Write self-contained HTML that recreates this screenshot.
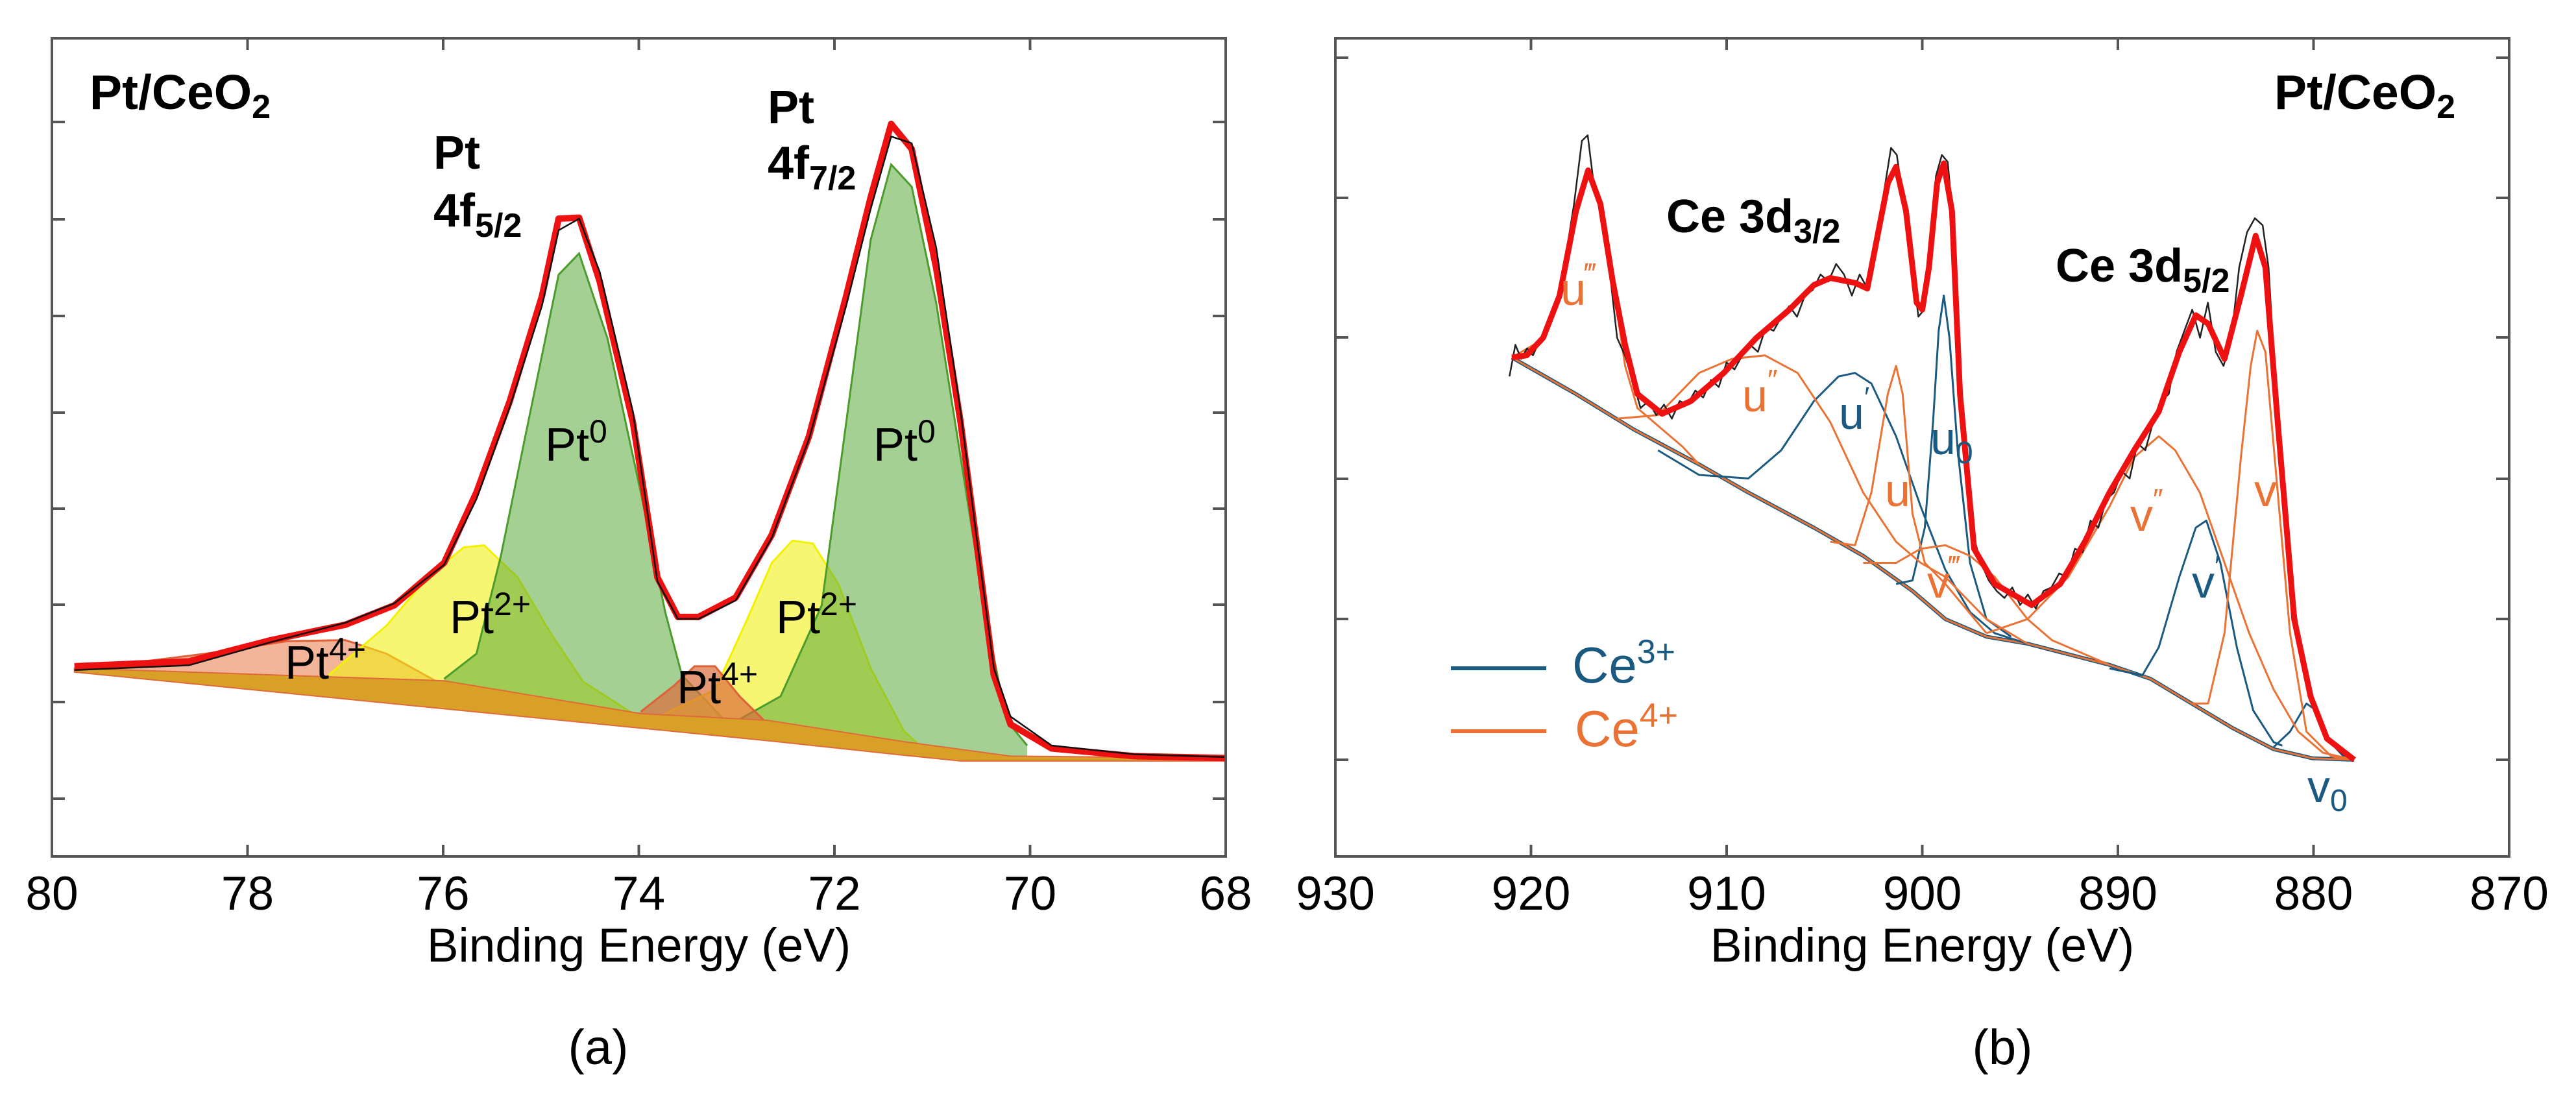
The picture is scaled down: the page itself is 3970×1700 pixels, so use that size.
<!DOCTYPE html>
<html><head><meta charset="utf-8"><style>
body{margin:0;background:#fff;}
svg{display:block;font-family:"Liberation Sans",Arial,sans-serif;}
</style></head><body>
<svg id="fig" width="3970" height="1700" viewBox="0 0 3970 1700" xmlns="http://www.w3.org/2000/svg">
<g id="pa"></g>
<g id="pb"></g>
</svg>
<script>
// ---------- Panel (a) data: [binding energy eV, intensity a.u.] ----------
const aTicksX = [80, 78, 76, 74, 72, 70, 68];
const aTickLabels = ["80", "78", "76", "74", "72", "70", "68"];
const aEnvelope = [[79.77,1.37],[78.60,1.42],[77.76,1.64],[77.00,1.80],[76.50,2.00],[75.99,2.44],[75.66,3.17],[75.32,4.11],[74.99,5.20],[74.82,6.00],[74.61,6.01],[74.40,5.35],[74.06,3.89],[73.81,2.29],[73.60,1.88],[73.39,1.88],[73.01,2.08],[72.64,2.73],[72.26,3.75],[71.88,5.20],[71.63,6.22],[71.42,6.98],[71.21,6.72],[70.96,5.49],[70.71,3.89],[70.54,2.59],[70.37,1.28],[70.20,0.77],[69.78,0.52],[68.94,0.44],[68.00,0.42]];
const aData = [[79.77,1.33],[78.60,1.38],[77.76,1.62],[77.00,1.82],[76.50,2.02],[75.99,2.42],[75.66,3.10],[75.32,4.05],[74.99,5.10],[74.82,5.88],[74.61,6.00],[74.40,5.45],[74.06,4.00],[73.81,2.25],[73.60,1.86],[73.39,1.86],[73.01,2.05],[72.64,2.70],[72.26,3.72],[71.88,5.10],[71.63,6.10],[71.42,6.85],[71.21,6.78],[70.96,5.70],[70.71,4.00],[70.54,2.65],[70.37,1.35],[70.20,0.85],[69.78,0.55],[68.94,0.46],[68.00,0.43]];
const aBackground = [[79.77,1.31],[75.99,0.93],[73.98,0.73],[72.68,0.60],[71.29,0.45],[70.71,0.39],[68.00,0.39]];
const aBgTop = [[79.77,1.35],[75.99,1.22],[73.98,0.88],[72.68,0.81],[71.29,0.59],[70.20,0.44],[68.00,0.42]];
const aPt4a = [[79.77,1.33],[78.43,1.50],[77.59,1.63],[77.00,1.64],[76.58,1.50],[75.99,1.17],[75.00,0.99],[73.98,0.88]];
const aPt4b = [[73.98,0.90],[73.64,1.17],[73.43,1.37],[73.22,1.37],[72.97,1.06],[72.72,0.81]];
const aPt2a = [[77.17,1.28],[76.58,1.79],[76.16,2.29],[75.79,2.60],[75.58,2.62],[75.24,2.29],[74.90,1.71],[74.57,1.21],[74.06,0.88]];
const aPt2b = [[73.81,0.84],[73.22,1.13],[72.89,1.86],[72.64,2.44],[72.43,2.67],[72.22,2.64],[71.96,2.22],[71.63,1.35],[71.29,0.70],[71.13,0.55]];
const aPt0a = [[75.99,1.24],[75.66,1.50],[75.41,2.51],[75.16,3.75],[74.82,5.42],[74.61,5.64],[74.32,4.76],[73.98,3.17],[73.73,1.93],[73.56,1.28],[73.14,0.83]];
const aPt0b = [[73.06,0.77],[72.55,1.06],[72.13,2.00],[71.88,3.89],[71.63,5.78],[71.42,6.56],[71.21,6.33],[70.96,5.13],[70.71,3.53],[70.45,1.86],[70.24,0.81],[70.03,0.55]];

// ---------- Panel (b) data: [binding energy eV, counts a.u.] ----------
const bTicksX = [930, 920, 910, 900, 890, 880, 870];
const bTickLabels = ["930", "920", "910", "900", "890", "880", "870"];
const bEnvelope = [[920.98,572],[920.22,575],[919.38,600],[918.54,660],[917.70,780],[917.08,838],[916.45,790],[915.82,680],[915.19,590],[914.56,520],[913.30,492],[911.83,510],[910.15,550],[908.47,600],[906.79,640],[905.54,675],[904.70,685],[903.44,678],[902.81,670],[902.39,730],[901.76,820],[901.34,843],[900.83,780],[900.29,650],[900.00,640],[899.66,700],[899.24,820],[898.90,848],[898.48,780],[898.07,520],[897.35,300],[896.30,250],[894.41,220],[892.95,250],[891.69,310],[890.43,380],[889.17,440],[887.91,495],[886.86,580],[886.02,632],[885.39,620],[884.55,570],[883.71,660],[882.96,745],[882.46,700],[881.83,480],[880.99,200],[880.15,90],[879.31,30],[877.92,0]];
const bData = [[921.1,545],[920.8,590],[920.5,570],[920.2,585],[919.9,575],[919.5,600],[919.1,615],[918.6,665],[918.2,720],[917.8,790],[917.4,880],[917.1,888],[916.8,820],[916.4,780],[916.0,700],[915.6,600],[915.2,575],[914.8,540],[914.4,500],[914.0,510],[913.6,490],[913.2,505],[912.8,485],[912.4,510],[912.0,505],[911.6,525],[911.2,515],[910.8,540],[910.4,530],[910.0,565],[909.6,555],[909.2,575],[908.8,590],[908.4,580],[908.0,615],[907.6,610],[907.2,630],[906.8,645],[906.4,630],[906.0,660],[905.6,668],[905.2,690],[904.8,680],[904.4,705],[904.0,690],[903.6,660],[903.2,690],[902.8,670],[902.4,720],[902.0,800],[901.6,870],[901.3,860],[900.9,780],[900.5,700],[900.2,630],[899.9,640],[899.6,720],[899.3,830],[899.0,860],[898.7,850],[898.4,760],[898.1,560],[897.8,420],[897.4,320],[897.0,280],[896.6,255],[896.2,240],[895.8,230],[895.4,245],[895.0,220],[894.6,235],[894.2,215],[893.8,240],[893.4,245],[893.0,265],[892.6,260],[892.2,300],[891.8,295],[891.4,340],[891.0,330],[890.6,370],[890.2,380],[889.8,410],[889.4,400],[889.0,450],[888.6,440],[888.2,480],[887.8,510],[887.4,520],[887.0,580],[886.6,610],[886.2,640],[885.8,600],[885.4,650],[885.0,580],[884.6,560],[884.2,600],[883.8,700],[883.4,750],[883.0,770],[882.6,760],[882.3,700],[882.0,560],[881.7,420],[881.4,330],[881.0,230],[880.6,140],[880.2,110],[879.8,60],[879.4,40],[879.0,20],[878.5,8],[877.9,2]];
const bBackground = [[920.98,572],[917.70,520],[914.77,470],[911.41,420],[908.89,380],[905.54,330],[903.02,290],[900.50,240],[898.82,200],[896.72,175],[894.62,165],[892.53,150],[890.43,135],[888.33,115],[886.23,80],[884.13,45],[882.04,15],[880.04,2],[877.92,0]];
const bU3 = [[920.98,572],[919.38,598],[918.54,660],[917.70,780],[917.08,838],[916.45,790],[915.82,680],[915.19,560],[914.56,500],[913.51,475],[912.25,445],[911.41,420]];
const bU2 = [[915.61,485],[913.51,490],[911.41,550],[909.73,570],[908.05,575],[906.37,550],[904.70,480],[903.02,380],[901.34,310],[900.08,280],[898.82,260],[896.72,200],[894.62,165]];
const bU = [[904.70,310],[903.44,305],[902.60,380],[901.76,520],[901.34,560],[901.00,520],[900.50,350],[899.87,280],[898.82,250],[896.72,180]];
const bV3 = [[903.02,280],[901.34,280],[900.08,300],[898.82,305],[897.56,290],[896.30,260],[894.62,200],[893.37,170],[890.43,135]];
const bV2 = [[896.72,180],[894.62,200],[892.53,260],[890.43,360],[889.17,430],[887.91,460],[887.07,440],[885.81,380],[884.55,280],[883.29,180],[882.04,100],[880.78,40],[879.52,10],[877.92,0]];
const bV = [[886.23,80],[885.39,80],[884.55,180],[883.71,430],[883.21,560],[882.88,610],[882.46,580],[881.83,380],[881.20,180],[880.36,40],[879.10,5],[877.92,0]];
const bUp = [[913.51,440],[911.41,405],[908.89,400],[907.21,440],[905.54,510],[904.28,545],[903.44,550],[902.60,535],[901.34,460],[900.08,360],[898.82,270],[897.56,210],[896.30,180],[894.62,165]];
const bU0 = [[901.34,250],[900.50,255],[899.87,330],[899.45,480],[899.16,610],[898.90,660],[898.61,600],[898.19,440],[897.56,280],[896.72,200],[895.46,175]];
const bVp = [[890.43,130],[888.75,120],[887.91,160],[886.86,260],[886.02,330],[885.48,340],[884.76,280],[883.92,160],[883.08,70],[882.04,25],[881.60,20]];
const bV0 = [[882.04,18],[881.20,40],[880.36,80],[879.85,70],[879.31,30],[878.47,5],[877.92,0]];

const NS = "http://www.w3.org/2000/svg";
function mk(parent, tag, attrs){ const e=document.createElementNS(NS,tag); for(const k in attrs) e.setAttribute(k,attrs[k]); parent.appendChild(e); return e; }

const axA = {x0:80, x1:1889, y0:59, y1:1320, eMax:80, eMin:68};
const xA = e => axA.x0 + (axA.eMax - e)/(axA.eMax-axA.eMin)*(axA.x1-axA.x0);
const yA = v => 1231 - v*149;
const axB = {x0:2058, x1:3867, y0:59, y1:1320, eMax:930, eMin:870};
const xB = e => axB.x0 + (axB.eMax - e)/(axB.eMax-axB.eMin)*(axB.x1-axB.x0);
const yB = c => 1171 - c*1.084;

function pts(arr, fx, fy){ return arr.map(p => fx(p[0]).toFixed(1)+","+fy(p[1]).toFixed(1)).join(" "); }
function area(arr, base, fx, fy){
  const first=arr[0][0], last=arr[arr.length-1][0];
  const interp = e => { for(let i=0;i<base.length-1;i++){const a=base[i],b=base[i+1]; if(e<=a[0]&&e>=b[0]){return a[1]+(b[1]-a[1])*(a[0]-e)/(a[0]-b[0]);}} return base[base.length-1][1]; };
  const bot=[]; base.forEach(p=>{ if(p[0]<first && p[0]>last) bot.push(p); });
  const poly = arr.concat([[last,interp(last)]], bot.reverse(), [[first,interp(first)]]);
  return pts(poly, fx, fy);
}

function frame(g, ax, xt, xl, fx, yTicks){
  const fr=mk(g,"rect",{x:ax.x0,y:ax.y0,width:ax.x1-ax.x0,height:ax.y1-ax.y0,fill:"none",stroke:"#555","stroke-width":4});
  
  
  xt.forEach((t,i)=>{
    const x=fx(t);
    const tk=mk(g,"line",{x1:x,y1:ax.y0,x2:x,y2:ax.y0+18,stroke:"#555","stroke-width":4});
    
    
    const tb=mk(g,"line",{x1:x,y1:ax.y1,x2:x,y2:ax.y1-18,stroke:"#555","stroke-width":4});
    
    
    const lab=mk(g,"text",{x:x,y:1402,"font-size":73,"text-anchor":"middle",fill:"#000"});
    lab.textContent=xl[i];
    
    
  });
  yTicks.forEach(y=>{
    const l=mk(g,"line",{x1:ax.x0,y1:y,x2:ax.x0+20,y2:y,stroke:"#555","stroke-width":4});
    
    
    const r=mk(g,"line",{x1:ax.x1,y1:y,x2:ax.x1-20,y2:y,stroke:"#555","stroke-width":4});
    
    
  });
  const t=mk(g,"text",{x:(ax.x0+ax.x1)/2,y:1482,"font-size":73,"text-anchor":"middle",fill:"#000"});
  t.textContent="Binding Energy (eV)";
  
  
}

const ga=document.getElementById("pa");
function compA(arr, fill, stroke, name){
  const p=mk(ga,"polygon",{points:area(arr,aBackground,xA,yA),fill:fill,stroke:"none"});
  
  
  const l=mk(ga,"polyline",{points:pts(arr,xA,yA),fill:"none",stroke:stroke,"stroke-width":3});
  
  
}
compA(aPt4a,"rgba(232,120,70,0.55)","#e0603a","pt4-5-2");
compA(aPt2a,"rgba(240,240,20,0.6)","#f2f200","pt2-5-2");
compA(aPt0a,"rgba(90,170,60,0.55)","#4c9c2c","pt0-5-2");
compA(aPt2b,"rgba(240,240,20,0.6)","#f2f200","pt2-7-2");
compA(aPt0b,"rgba(90,170,60,0.55)","#4c9c2c","pt0-7-2");
compA(aPt4b,"rgba(220,110,60,0.7)","#e0603a","pt4-7-2");
{
  const wedge=aBgTop.concat(aBackground.slice().reverse());
  const w=mk(ga,"polygon",{points:pts(wedge,xA,yA),fill:"#d9a028",stroke:"#e06a3a","stroke-width":2});
  
  
  const e=mk(ga,"polyline",{points:pts(aEnvelope,xA,yA),fill:"none",stroke:"#ee1111","stroke-width":10,"stroke-linejoin":"round"});
  
  
  const d=mk(ga,"polyline",{points:pts(aData,xA,yA),fill:"none",stroke:"#111","stroke-width":2.5});
  
  
}
frame(ga, axA, aTicksX, aTickLabels, xA, [188,338,487,636,784,932,1082,1231]);

const gb=document.getElementById("pb");
const BLUE="#1b5a80", ORANGE="#ea7234";
function lineB(arr,color,w,name){
  const l=mk(gb,"polyline",{points:pts(arr,xB,yB),fill:"none",stroke:color,"stroke-width":w,"stroke-linejoin":"round"});
  
  
}
lineB(bBackground,BLUE,6,"background-ce3");
lineB(bBackground,ORANGE,3,"background-ce4");
lineB(bUp,BLUE,3,"u-prime-peak");
lineB(bU0,BLUE,3,"u0-peak");
lineB(bVp,BLUE,3,"v-prime-peak");
lineB(bV0,BLUE,3,"v0-peak");
lineB(bU3,ORANGE,3,"u-triple-prime-peak");
lineB(bU2,ORANGE,3,"u-double-prime-peak");
lineB(bU,ORANGE,3,"u-peak");
lineB(bV3,ORANGE,3,"v-triple-prime-peak");
lineB(bV2,ORANGE,3,"v-double-prime-peak");
lineB(bV,ORANGE,3,"v-peak");
lineB(bData,"#222",2.5,"measured-data-line");
lineB(bEnvelope,"#ee1111",9,"envelope-fit-line");
frame(gb, axB, bTicksX, bTickLabels, xB, [89,305,520,738,954,1171]);
</script>
<svg style="position:absolute;left:0;top:0" width="3970" height="1700">
<g font-family="Liberation Sans, Arial, sans-serif">
<text x="138" y="168" font-size="75" font-weight="bold">Pt/CeO<tspan font-size="52" dy="14">2</tspan></text>
<text x="668" y="260" font-size="72" font-weight="bold">Pt</text>
<text x="668" y="349" font-size="72" font-weight="bold">4f<tspan font-size="52" dy="16">5/2</tspan></text>
<text x="1183" y="190" font-size="72" font-weight="bold">Pt</text>
<text x="1183" y="276" font-size="72" font-weight="bold">4f<tspan font-size="52" dy="16">7/2</tspan></text>
<text x="840" y="710" font-size="72">Pt<tspan font-size="50" dy="-28">0</tspan></text>
<text x="1346" y="710" font-size="72">Pt<tspan font-size="50" dy="-28">0</tspan></text>
<text x="693" y="976" font-size="72">Pt<tspan font-size="50" dy="-28">2+</tspan></text>
<text x="1196" y="976" font-size="72">Pt<tspan font-size="50" dy="-28">2+</tspan></text>
<text x="439" y="1046" font-size="72">Pt<tspan font-size="50" dy="-28">4+</tspan></text>
<text x="1043" y="1084" font-size="72">Pt<tspan font-size="50" dy="-28">4+</tspan></text>
<text x="922" y="1640" font-size="76" text-anchor="middle">(a)</text>
<text x="3505" y="168" font-size="75" font-weight="bold">Pt/CeO<tspan font-size="52" dy="14">2</tspan></text>
<text x="2568" y="358" font-size="72" font-weight="bold">Ce 3d<tspan font-size="52" dy="16">3/2</tspan></text>
<text x="3168" y="434" font-size="72" font-weight="bold">Ce 3d<tspan font-size="52" dy="16">5/2</tspan></text>
<text x="2405" y="470" font-size="70" fill="#ea7234">u<tspan font-size="44" dy="-34">‴</tspan></text>
<text x="2685" y="634" font-size="70" fill="#ea7234">u<tspan font-size="44" dy="-34">″</tspan></text>
<text x="2834" y="661" font-size="70" fill="#1b5a80">u<tspan font-size="44" dy="-34">′</tspan></text>
<text x="2975" y="700" font-size="70" fill="#1b5a80">u<tspan font-size="48" dy="14">0</tspan></text>
<text x="2905" y="780" font-size="70" fill="#ea7234">u</text>
<text x="2970" y="921" font-size="70" fill="#ea7234">v<tspan font-size="44" dy="-34">‴</tspan></text>
<text x="3283" y="818" font-size="70" fill="#ea7234">v<tspan font-size="44" dy="-34">″</tspan></text>
<text x="3474" y="780" font-size="70" fill="#ea7234">v</text>
<text x="3378" y="921" font-size="70" fill="#1b5a80">v<tspan font-size="44" dy="-34">′</tspan></text>
<text x="3556" y="1236" font-size="70" fill="#1b5a80">v<tspan font-size="48" dy="14">0</tspan></text>
<line x1="2236" y1="1030" x2="2383" y2="1030" stroke="#1b5a80" stroke-width="6"/>
<text x="2423" y="1052" font-size="78" fill="#1b5a80">Ce<tspan font-size="52" dy="-30">3+</tspan></text>
<line x1="2236" y1="1127" x2="2383" y2="1127" stroke="#ea7234" stroke-width="6"/>
<text x="2427" y="1150" font-size="78" fill="#ea7234">Ce<tspan font-size="52" dy="-30">4+</tspan></text>
<text x="3086" y="1640" font-size="76" text-anchor="middle">(b)</text>
</g>
</svg>
</body></html>
